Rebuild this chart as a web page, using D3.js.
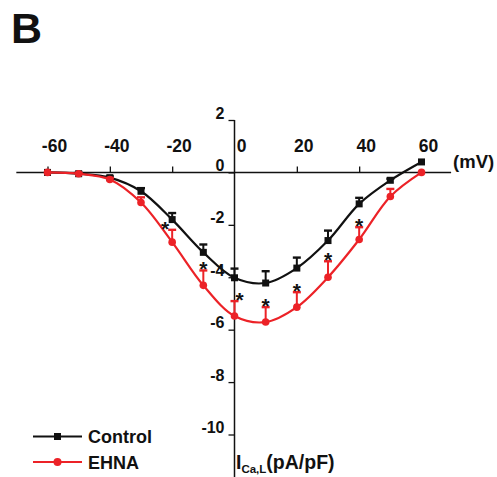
<!DOCTYPE html>
<html>
<head>
<meta charset="utf-8">
<script src="https://cdn.jsdelivr.net/npm/d3@7"></script>
<style>
  html, body { margin: 0; padding: 0; background: #fff; }
  svg { display: block; }
  svg text { font-family: "Liberation Sans", Arial, sans-serif; font-weight: bold; }
</style>
</head>
<body>
<svg id="chart" width="497" height="477"></svg>
<script>
// Membrane potential steps (mV)
const voltages = [-60, -50, -40, -30, -20, -10, 0, 10, 20, 30, 40, 50, 60];
// L-type Ca2+ current density (pA/pF), mean and SEM
const controlMean = [0, -0.05, -0.2, -0.72, -1.8, -3.05, -4.02, -4.22, -3.65, -2.6, -1.2, -0.3, 0.4];
const controlSem  = [0, 0.03, 0.05, 0.12, 0.25, 0.3, 0.35, 0.45, 0.4, 0.38, 0.23, 0.06, 0];
const ehnaMean    = [0, -0.05, -0.27, -1.15, -2.66, -4.31, -5.48, -5.71, -5.14, -4.0, -2.56, -0.92, 0];
const ehnaSem     = [0, 0.03, 0.06, 0.2, 0.47, 0.57, 0.57, 0.57, 0.57, 0.61, 0.47, 0.29, 0];
// Voltages where EHNA differs significantly from control
const significant = [-20, -10, 0, 10, 20, 30, 40];
const xTicks = [-60, -40, -20, 0, 20, 40, 60];
const yTicks = [2, 0, -2, -4, -6, -8, -10];
const seriesNames = ["Control", "EHNA"];

const svg = d3.select("#chart");
const x = d3.scaleLinear().domain([-60, 60]).range([47.5, 421.5]);
const y = d3.scaleLinear().domain([2, -10]).range([120, 434.5]);

const black = "#111111";
const red = "#ec2227";

// Panel letter
svg.append("text").attr("x", 11).attr("y", 43)
  .attr("font-size", 43).attr("fill", "#111").text("B");

// Horizontal (voltage) axis through zero current
const xAxisG = svg.append("g").attr("transform", `translate(0,${y(0)})`);
xAxisG.append("line")
  .attr("x1", x(-70)).attr("x2", x(69.5))
  .attr("stroke", black).attr("stroke-width", 1.5);
xAxisG.call(d3.axisTop(x).tickValues(xTicks.filter(v => v !== 0 && v !== 60)).tickSize(6).tickSizeOuter(0).tickFormat(""))
  .call(g => g.select(".domain").remove())
  .call(g => g.selectAll(".tick line").attr("stroke", black).attr("stroke-width", 1.3));
xAxisG.selectAll(".xlab").data(xTicks).enter().append("text")
  .attr("class", "xlab")
  .attr("x", d => x(d) + 7)
  .attr("y", -20)
  .attr("text-anchor", "middle")
  .attr("font-size", 17.5).attr("fill", black)
  .text(d => d);
xAxisG.append("text").attr("x", x(69.5) + 2).attr("y", -4)
  .attr("text-anchor", "start")
  .attr("font-size", 18.5).attr("fill", black).text("(mV)");

// Vertical (current) axis through 0 mV
const yAxisG = svg.append("g").attr("transform", `translate(${x(0)},0)`);
yAxisG.append("line")
  .attr("y1", y(2)).attr("y2", 477)
  .attr("stroke", black).attr("stroke-width", 1.5);
yAxisG.call(d3.axisLeft(y).tickValues(yTicks).tickSize(6).tickSizeOuter(0).tickFormat(""))
  .call(g => g.select(".domain").remove())
  .call(g => g.selectAll(".tick line").attr("stroke", black).attr("stroke-width", 1.3));
yAxisG.selectAll(".ylab").data(yTicks).enter().append("text")
  .attr("class", "ylab")
  .attr("x", -10)
  .attr("y", d => y(d) - 1.5)
  .attr("text-anchor", "end")
  .attr("font-size", 16).attr("fill", black)
  .text(d => d);
const yTitle = svg.append("text").attr("x", x(0) + 1.5).attr("y", 469)
  .attr("font-size", 19.5).attr("fill", black);
yTitle.append("tspan").text("I");
yTitle.append("tspan").attr("font-size", 11.5).attr("dy", 4).text("Ca,L");
yTitle.append("tspan").attr("dy", -4).text("(pA/pF)");

// Series
const series = [
  { name: seriesNames[0], mean: controlMean, sem: controlSem, color: black, shape: "square" },
  { name: seriesNames[1], mean: ehnaMean, sem: ehnaSem, color: red, shape: "circle" }
];

const line = d3.line()
  .x(d => x(d.v)).y(d => y(d.m))
  .curve(d3.curveCatmullRom.alpha(0.5));

series.forEach(s => {
  const pts = voltages.map((v, i) => ({ v, m: s.mean[i], e: s.sem[i] }));
  const g = svg.append("g");
  g.append("path").datum(pts).attr("d", line)
    .attr("fill", "none").attr("stroke", s.color).attr("stroke-width", 2.2);
  // SEM bars point toward zero current
  const eb = g.selectAll(".eb").data(pts.filter(p => p.e > 0)).enter().append("g");
  eb.append("line")
    .attr("x1", p => x(p.v)).attr("x2", p => x(p.v))
    .attr("y1", p => y(p.m)).attr("y2", p => y(p.m + p.e))
    .attr("stroke", s.color).attr("stroke-width", 2);
  eb.append("line")
    .attr("x1", p => x(p.v) - 4).attr("x2", p => x(p.v) + 4)
    .attr("y1", p => y(p.m + p.e)).attr("y2", p => y(p.m + p.e))
    .attr("stroke", s.color).attr("stroke-width", 2.4);
  if (s.shape === "square") {
    g.selectAll(".mk").data(pts).enter().append("rect")
      .attr("x", p => x(p.v) - 3.5).attr("y", p => y(p.m) - 3.5)
      .attr("width", 7).attr("height", 7).attr("fill", s.color);
  } else {
    g.selectAll(".mk").data(pts).enter().append("circle")
      .attr("cx", p => x(p.v)).attr("cy", p => y(p.m))
      .attr("r", 3.8).attr("fill", s.color);
  }
});

// Significance marks above the EHNA error bars
const starNudge = { "-20": -7, "0": 5 };
svg.selectAll(".star").data(significant).enter().append("text")
  .attr("x", v => x(v) + (starNudge[v] || 0))
  .attr("y", v => { const i = voltages.indexOf(v); return y(ehnaMean[i] + ehnaSem[i]) + 6; })
  .attr("text-anchor", "middle")
  .attr("font-size", 21).attr("fill", black)
  .text("*");

// Legend
const legend = svg.append("g");
series.forEach((s, i) => {
  const ly = 436.5 + i * 25.5;
  legend.append("line").attr("x1", 33).attr("x2", 82).attr("y1", ly).attr("y2", ly)
    .attr("stroke", s.color).attr("stroke-width", 2.2);
  if (s.shape === "square") {
    legend.append("rect").attr("x", 54).attr("y", ly - 3.5).attr("width", 7).attr("height", 7).attr("fill", s.color);
  } else {
    legend.append("circle").attr("cx", 57.5).attr("cy", ly).attr("r", 4).attr("fill", s.color);
  }
  legend.append("text").attr("x", 88).attr("y", ly + 6.5)
    .attr("font-size", 18).attr("fill", black).text(s.name);
});
</script>
</body>
</html>
